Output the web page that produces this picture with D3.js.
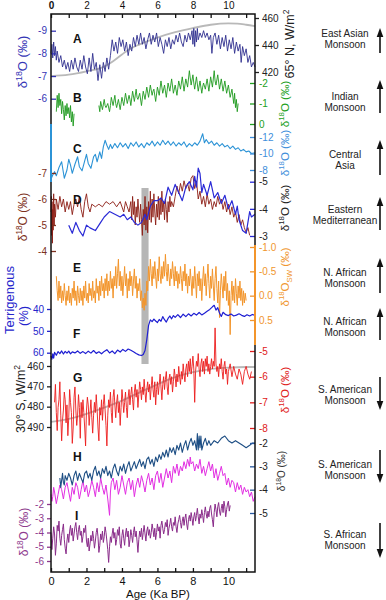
<!DOCTYPE html>
<html>
<head>
<meta charset="utf-8">
<script src="https://cdn.jsdelivr.net/npm/d3@7"></script>
<style>
  body { margin: 0; background: #fff; }
  svg text { font-family: "Liberation Sans", Arial, sans-serif; }
</style>
</head>
<body>
<div id="chart"></div>
<script>
// A: speleothem d18O (East Asia) + 65N insolation
const seriesA = [[0.0,-8.0],[0.05,-8.4],[0.1,-7.8],[0.15,-8.5],[0.2,-7.9],[0.25,-8.3],[0.3,-7.7],[0.35,-8.1],[0.45,-7.6],[0.55,-7.9],[0.65,-7.4],[0.75,-7.7],[0.85,-7.3],[0.95,-7.6],[1.05,-7.2],[1.15,-7.7],[1.25,-7.3],[1.35,-7.8],[1.45,-7.4],[1.55,-7.2],[1.65,-7.7],[1.75,-7.3],[1.85,-7.9],[1.95,-7.4],[2.05,-7.1],[2.15,-7.8],[2.25,-7.2],[2.35,-8.0],[2.45,-7.3],[2.55,-7.6],[2.65,-6.8],[2.75,-7.5],[2.85,-6.9],[2.95,-7.6],[3.05,-7.2],[3.15,-7.8],[3.25,-7.3],[3.35,-7.9],[3.45,-8.6],[3.55,-8.1],[3.65,-8.5],[3.75,-8.0],[3.85,-8.7],[3.95,-8.3],[4.05,-8.6],[4.15,-8.1],[4.25,-8.5],[4.35,-7.9],[4.45,-8.4],[4.55,-8.1],[4.65,-8.7],[4.75,-8.3],[4.85,-8.8],[4.95,-8.4],[5.05,-8.9],[5.15,-8.4],[5.25,-8.7],[5.35,-8.2],[5.45,-8.6],[5.55,-8.9],[5.65,-8.4],[5.75,-8.8],[5.85,-8.5],[5.95,-8.9],[6.05,-8.3],[6.15,-8.7],[6.25,-8.4],[6.35,-8.0],[6.45,-8.6],[6.55,-8.3],[6.65,-8.7],[6.75,-8.2],[6.85,-8.6],[6.95,-8.4],[7.05,-8.8],[7.15,-8.5],[7.25,-8.9],[7.35,-8.5],[7.45,-8.3],[7.55,-8.8],[7.65,-8.5],[7.75,-8.9],[7.85,-8.6],[7.95,-9.0],[8.0,-8.4],[8.05,-9.1],[8.1,-8.3],[8.15,-9.0],[8.2,-8.5],[8.25,-9.1],[8.3,-8.6],[8.4,-8.9],[8.5,-8.7],[8.6,-9.0],[8.7,-8.7],[8.8,-8.9],[8.9,-8.6],[9.0,-8.8],[9.07,-8.0],[9.15,-8.7],[9.25,-8.9],[9.35,-8.4],[9.45,-8.8],[9.55,-8.2],[9.65,-8.7],[9.75,-8.3],[9.85,-8.8],[9.95,-8.1],[10.05,-8.6],[10.15,-8.2],[10.25,-8.7],[10.35,-8.0],[10.45,-8.5],[10.55,-8.1],[10.65,-8.4],[10.72,-7.6],[10.8,-8.3],[10.9,-7.9],[11.0,-8.2],[11.1,-7.6],[11.2,-7.9],[11.3,-7.4],[11.4,-7.6],[11.5,-7.4]];
const insol65N = [[0,417],[1,418],[2,420.5],[3,424],[3.5,428],[4,433],[4.5,437.5],[5,440.5],[6,445.5],[7,449.5],[8,452.5],[9,455],[10,456],[10.5,455.8],[11,455],[11.5,454]];

// B: Indian monsoon d18O (two pieces)
const seriesB1 = [[0.3,-0.6],[0.35,-1.4],[0.4,-0.8],[0.45,-1.5],[0.5,-0.9],[0.55,-1.2],[0.6,-0.5],[0.65,-1.1],[0.7,-0.7],[0.75,-0.2],[0.8,-0.9],[0.85,-0.4],[0.9,-1.0],[0.95,-0.5],[1.0,-0.8],[1.05,-0.3],[1.1,-0.9],[1.15,-0.1],[1.2,-0.6],[1.25,0.1],[1.3,-0.5]];
const seriesB2 = [[2.7,-0.9],[2.75,-0.6],[2.8,-1.1],[2.9,-0.7],[3.0,-1.2],[3.05,-0.9],[3.1,-0.8],[3.2,-1.0],[3.3,-0.6],[3.35,-0.9],[3.4,-1.3],[3.5,-0.9],[3.6,-1.4],[3.65,-1.0],[3.7,-0.8],[3.8,-1.2],[3.9,-0.7],[4.0,-1.3],[4.05,-1.1],[4.1,-0.9],[4.2,-1.5],[4.3,-1.0],[4.4,-1.4],[4.45,-1.2],[4.5,-0.9],[4.6,-1.6],[4.7,-1.1],[4.8,-1.7],[4.85,-1.3],[4.9,-1.2],[5.0,-1.5],[5.1,-0.9],[5.2,-1.6],[5.3,-1.2],[5.35,-1.5],[5.4,-1.8],[5.5,-1.3],[5.6,-1.9],[5.7,-1.4],[5.75,-1.6],[5.8,-1.7],[5.9,-1.1],[6.0,-1.8],[6.1,-1.4],[6.2,-2.1],[6.25,-1.8],[6.3,-1.5],[6.4,-1.9],[6.5,-1.3],[6.6,-2.0],[6.7,-1.6],[6.75,-1.9],[6.8,-2.2],[6.9,-1.5],[7.0,-1.9],[7.1,-1.4],[7.2,-2.1],[7.3,-1.7],[7.35,-2.0],[7.4,-2.3],[7.5,-1.6],[7.6,-2.2],[7.7,-1.8],[7.8,-2.6],[7.9,-1.9],[8.0,-2.4],[8.05,-2.0],[8.1,-1.7],[8.2,-2.3],[8.3,-1.6],[8.4,-2.1],[8.5,-1.5],[8.55,-1.8],[8.6,-2.0],[8.7,-1.7],[8.8,-2.2],[8.9,-1.6],[9.0,-2.3],[9.1,-1.8],[9.2,-2.6],[9.25,-2.1],[9.3,-1.9],[9.4,-2.4],[9.5,-1.7],[9.6,-2.2],[9.7,-1.6],[9.8,-2.1],[9.9,-1.5],[10.0,-1.9],[10.1,-1.3],[10.2,-1.7],[10.3,-1.0],[10.35,-1.5],[10.4,-0.8],[10.45,-1.2],[10.5,-0.6],[10.55,-1.0]];

// C: Central Asia d18O
const seriesC = [[0,-6.9],[0.1,-7.4],[0.2,-7.8],[0.3,-7.3],[0.45,-8.3],[0.6,-9.0],[0.75,-7.0],[0.9,-8.0],[1.0,-9.3],[1.1,-8.6],[1.2,-7.6],[1.35,-8.7],[1.5,-9.6],[1.6,-8.4],[1.75,-7.9],[1.9,-9.1],[2.0,-9.9],[2.1,-8.8],[2.25,-8.2],[2.4,-9.6],[2.5,-9.9],[2.6,-9.0],[2.75,-10.2],[2.85,-9.4],[2.95,-10.8],[3.05,-11.6],[3.15,-11.0],[3.25,-10.5],[3.35,-11.1],[3.45,-10.6],[3.6,-11.2],[3.75,-10.7],[3.9,-11.3],[4.05,-10.8],[4.2,-11.2],[4.35,-10.6],[4.5,-11.3],[4.65,-10.9],[4.8,-11.4],[4.95,-10.8],[5.1,-11.2],[5.25,-10.7],[5.4,-11.3],[5.55,-11.0],[5.7,-11.5],[5.85,-10.9],[6.0,-11.4],[6.15,-11.0],[6.3,-11.6],[6.45,-11.1],[6.6,-11.5],[6.75,-11.0],[6.9,-11.4],[7.05,-10.9],[7.2,-11.3],[7.35,-11.0],[7.5,-11.4],[7.65,-10.8],[7.8,-11.2],[7.95,-10.9],[8.1,-11.3],[8.25,-11.0],[8.4,-11.5],[8.55,-12.4],[8.65,-11.3],[8.75,-11.7],[8.9,-11.2],[9.05,-11.5],[9.2,-11.0],[9.35,-11.3],[9.5,-10.9],[9.65,-11.2],[9.8,-10.8],[9.95,-11.0],[10.1,-10.6],[10.25,-10.9],[10.4,-10.5],[10.55,-10.7],[10.7,-10.3],[10.85,-10.5],[11.0,-10.2],[11.15,-10.3],[11.3,-10.0],[11.5,-10.1]];

// D: Eastern Mediterranean, two records
const seriesDbrown = [[0,-5.5],[0.02,-6.1],[0.04,-4.6],[0.06,-5.9],[0.08,-4.3],[0.1,-5.6],[0.12,-4.8],[0.15,-6.2],[0.18,-5.0],[0.2,-5.8],[0.25,-5.3],[0.3,-6.0],[0.4,-5.6],[0.5,-6.1],[0.6,-5.7],[0.7,-6.0],[0.8,-5.5],[0.9,-5.9],[1.0,-5.6],[1.1,-5.9],[1.2,-5.4],[1.3,-5.8],[1.4,-6.0],[1.5,-5.7],[1.6,-6.1],[1.7,-5.6],[1.8,-5.3],[1.9,-5.9],[2.0,-6.2],[2.1,-5.7],[2.2,-5.5],[2.3,-5.8],[2.5,-5.7],[2.7,-5.8],[2.9,-5.7],[3.1,-5.9],[3.3,-5.8],[3.5,-5.9],[3.7,-5.7],[3.9,-5.9],[4.1,-5.5],[4.2,-5.9],[4.3,-5.7],[4.4,-5.5],[4.5,-5.9],[4.55,-5.2],[4.6,-6.1],[4.65,-5.4],[4.7,-5.9],[4.75,-5.0],[4.8,-5.7],[4.85,-5.3],[4.9,-6.0],[4.95,-5.5],[5.0,-5.1],[5.05,-5.8],[5.1,-5.2],[5.15,-4.6],[5.2,-5.6],[5.25,-5.0],[5.3,-6.1],[5.35,-4.8],[5.4,-5.7],[5.45,-4.7],[5.5,-5.9],[5.55,-5.2],[5.6,-6.3],[5.65,-5.1],[5.7,-6.0],[5.75,-5.3],[5.8,-6.2],[5.85,-5.5],[5.9,-5.0],[5.95,-5.8],[6.0,-5.3],[6.05,-6.1],[6.1,-5.2],[6.15,-6.0],[6.2,-5.4],[6.25,-6.3],[6.3,-5.5],[6.35,-5.9],[6.4,-5.2],[6.45,-6.0],[6.5,-5.6],[6.55,-5.1],[6.6,-5.9],[6.65,-5.5],[6.7,-6.1],[6.75,-5.7],[6.8,-5.9],[6.9,-5.7],[7.0,-6.1],[7.1,-6.5],[7.2,-6.2],[7.3,-6.6],[7.4,-6.3],[7.5,-6.7],[7.6,-6.4],[7.7,-6.6],[7.8,-6.3],[7.9,-6.8],[8.0,-6.9],[8.1,-6.4],[8.2,-6.7],[8.3,-6.0],[8.4,-6.3],[8.5,-5.8],[8.6,-6.1],[8.7,-5.7],[8.8,-6.2],[8.9,-5.8],[9.0,-6.0],[9.1,-5.6],[9.2,-5.9],[9.3,-5.7],[9.4,-6.1],[9.5,-5.8],[9.6,-6.0],[9.7,-5.6],[9.8,-5.9],[9.9,-5.5],[10.0,-5.8],[10.1,-5.4],[10.2,-5.7],[10.3,-5.3],[10.4,-5.5],[10.5,-5.1],[10.6,-5.4],[10.7,-5.0],[10.8,-5.2],[10.9,-4.9],[11.0,-4.7],[11.1,-4.9],[11.2,-4.6]];
const seriesDblue = [[1.0,-3.4],[1.2,-3.1],[1.4,-3.5],[1.6,-3.2],[1.8,-3.0],[2.0,-3.4],[2.2,-3.3],[2.5,-3.2],[2.8,-3.5],[3.0,-3.7],[3.3,-3.9],[3.6,-3.8],[3.9,-3.7],[4.1,-3.8],[4.3,-3.6],[4.5,-3.7],[4.7,-3.5],[4.9,-3.4],[5.1,-3.5],[5.3,-3.8],[5.4,-3.6],[5.6,-4.1],[5.8,-4.3],[6.0,-4.3],[6.2,-4.4],[6.4,-4.2],[6.6,-4.8],[6.8,-4.5],[7.0,-4.9],[7.2,-4.6],[7.4,-4.3],[7.6,-4.8],[7.8,-5.0],[8.0,-4.7],[8.1,-5.2],[8.2,-4.8],[8.3,-5.5],[8.4,-5.3],[8.5,-4.6],[8.6,-4.9],[8.8,-4.5],[9.0,-5.0],[9.2,-4.4],[9.4,-4.6],[9.6,-4.2],[9.8,-4.5],[10.0,-4.0],[10.2,-4.3],[10.4,-3.8],[10.5,-4.1],[10.6,-3.6],[10.8,-3.2],[11.0,-3.1],[11.2,-3.9],[11.3,-3.7],[11.5,-3.8]];

// E: N. African d18Osw
const seriesE = [[0.3,-0.4],[0.35,-0.1],[0.4,0.1],[0.45,-0.3],[0.5,0.05],[0.55,-0.2],[0.6,0.15],[0.65,-0.1],[0.7,0.1],[0.75,-0.25],[0.8,0.0],[0.85,0.2],[0.9,-0.1],[0.95,0.1],[1.0,-0.2],[1.05,0.15],[1.1,-0.05],[1.15,0.2],[1.2,-0.15],[1.25,0.05],[1.3,-0.3],[1.35,0.1],[1.4,-0.1],[1.45,0.2],[1.5,-0.2],[1.55,0.0],[1.6,0.15],[1.65,-0.15],[1.7,0.1],[1.75,-0.1],[1.8,0.2],[1.85,-0.2],[1.9,0.05],[1.95,-0.3],[2.0,0.1],[2.05,-0.05],[2.1,0.15],[2.15,-0.25],[2.2,0.0],[2.25,-0.15],[2.3,0.1],[2.35,-0.3],[2.4,0.05],[2.45,-0.1],[2.5,0.15],[2.55,-0.35],[2.6,-0.05],[2.65,-0.2],[2.7,0.1],[2.75,-0.3],[2.8,0.0],[2.85,-0.4],[2.9,-0.1],[2.95,-0.25],[3.0,0.05],[3.05,-0.35],[3.1,-0.1],[3.15,-0.45],[3.2,0.0],[3.25,-0.3],[3.3,-0.1],[3.35,-0.5],[3.4,-0.15],[3.45,-0.35],[3.5,0.05],[3.55,-0.4],[3.6,-0.2],[3.65,-0.6],[3.7,-0.15],[3.75,-0.45],[3.8,-0.75],[3.85,-0.2],[3.9,-0.5],[3.95,-0.1],[4.0,-0.4],[4.05,0.0],[4.1,-0.3],[4.15,-0.6],[4.2,-0.2],[4.25,-0.45],[4.3,0.05],[4.35,-0.35],[4.4,-0.1],[4.45,-0.5],[4.5,-0.2],[4.55,-0.4],[4.6,0.0],[4.65,-0.3],[4.7,-0.55],[4.75,-0.15],[4.8,-0.4],[4.85,0.05],[4.9,-0.25],[4.95,-0.1],[5.0,-0.35],[5.05,0.1],[5.1,-0.1],[5.15,0.25],[5.2,0.05],[5.25,0.3],[5.3,-0.05],[5.35,0.2],[5.4,-0.3],[5.45,-0.1],[5.5,-0.6],[5.55,-0.3],[5.6,-0.75],[5.65,-0.45],[5.7,-0.2],[5.75,-0.6],[5.8,-0.35],[5.85,-0.7],[5.9,-0.4],[5.95,-0.15],[6.0,-0.55],[6.05,-0.3],[6.1,-0.8],[6.15,-0.45],[6.2,-0.25],[6.25,-0.6],[6.3,-0.35],[6.35,-0.7],[6.4,-0.4],[6.45,-0.85],[6.5,-0.5],[6.55,-0.3],[6.6,-0.65],[6.65,-0.4],[6.7,-0.2],[6.75,-0.55],[6.8,-0.35],[6.85,-0.7],[6.9,-0.45],[6.95,-0.2],[7.0,-0.6],[7.05,-0.3],[7.1,-0.5],[7.15,-0.15],[7.2,-0.45],[7.25,-0.25],[7.3,-0.6],[7.35,-0.35],[7.4,-0.1],[7.45,-0.5],[7.5,-0.3],[7.55,-0.65],[7.6,-0.2],[7.65,-0.45],[7.7,-0.05],[7.75,-0.4],[7.8,-0.2],[7.85,-0.55],[7.9,-0.3],[7.95,0.0],[8.0,-0.4],[8.05,-0.15],[8.1,-0.6],[8.15,-0.3],[8.2,0.05],[8.25,-0.45],[8.3,-0.2],[8.35,-0.5],[8.4,-0.1],[8.45,-0.35],[8.5,0.1],[8.55,-0.3],[8.6,-0.6],[8.65,-0.2],[8.7,-0.45],[8.75,0.0],[8.8,-0.35],[8.85,-0.65],[8.9,-0.25],[8.95,0.05],[9.0,-0.4],[9.05,-0.15],[9.1,-0.55],[9.15,-0.2],[9.2,0.1],[9.25,-0.35],[9.3,-0.6],[9.35,-0.15],[9.4,0.15],[9.45,-0.3],[9.5,0.45],[9.55,-0.1],[9.6,-0.45],[9.65,-0.2],[9.7,0.05],[9.75,-0.4],[9.8,-0.1],[9.85,-0.5],[9.9,0.1],[9.95,-0.25],[10.0,0.2],[10.05,-0.1],[10.1,0.8],[10.15,0.0],[10.2,-0.3],[10.25,0.1],[10.3,-0.2],[10.35,0.15],[10.4,-0.35],[10.45,-0.05],[10.5,0.2],[10.55,-0.2],[10.6,0.05],[10.65,-0.3],[10.7,0.1],[10.75,-0.15],[10.8,0.2],[10.85,-0.1],[10.9,0.15],[10.95,-0.05],[11.0,0.1]];

// F: terrigenous %
const seriesF = [[0,61.5],[0.05,63],[0.1,60.5],[0.15,62.5],[0.2,59.8],[0.3,61.2],[0.4,59.5],[0.5,60.4],[0.6,59.2],[0.7,60.6],[0.8,59.4],[0.9,60.2],[1.0,59.3],[1.1,60.5],[1.2,59.6],[1.35,60.1],[1.5,59.2],[1.65,60.3],[1.8,59.5],[1.95,60.4],[2.1,59.3],[2.25,60.2],[2.4,59.0],[2.55,60.3],[2.7,59.6],[2.85,60.5],[3.0,59.4],[3.15,58.6],[3.3,60.1],[3.45,59.2],[3.6,60.4],[3.75,58.8],[3.9,59.7],[4.05,58.5],[4.2,59.4],[4.35,58.3],[4.5,58.9],[4.65,59.6],[4.8,60.4],[4.95,61.0],[5.1,61.3],[5.2,60.8],[5.3,59.0],[5.4,54.0],[5.5,47.5],[5.6,45.0],[5.7,45.8],[5.8,44.6],[5.9,45.5],[6.0,46.2],[6.1,44.8],[6.2,45.6],[6.3,43.5],[6.4,44.9],[6.5,46.0],[6.6,44.3],[6.7,43.2],[6.8,44.5],[6.9,43.0],[7.0,43.8],[7.15,42.6],[7.3,43.9],[7.45,42.4],[7.6,43.5],[7.75,42.2],[7.9,43.2],[8.05,42.0],[8.2,42.8],[8.35,41.6],[8.5,42.7],[8.65,41.9],[8.8,41.0],[8.95,40.2],[9.1,39.0],[9.2,38.3],[9.3,40.5],[9.4,39.4],[9.5,41.8],[9.6,43.4],[9.7,41.5],[9.85,42.6],[10.0,43.0],[10.15,42.3],[10.3,43.2],[10.45,42.8],[10.6,42.2],[10.75,42.9],[10.9,43.4],[11.05,42.6],[11.2,43.2],[11.35,42.5],[11.5,42.9]];

// G: S. American d18O + 30S insolation
const seriesG = [[0.2,-7.0],[0.25,-6.3],[0.3,-7.4],[0.35,-8.1],[0.4,-7.2],[0.45,-6.9],[0.5,-6.2],[0.55,-7.5],[0.6,-8.5],[0.65,-7.7],[0.7,-7.3],[0.75,-6.6],[0.8,-6.9],[0.85,-7.8],[0.9,-7.1],[0.95,-8.3],[1.0,-7.6],[1.05,-6.5],[1.1,-7.0],[1.15,-7.4],[1.2,-8.6],[1.25,-8.0],[1.3,-6.8],[1.35,-6.4],[1.4,-7.3],[1.45,-7.9],[1.5,-7.5],[1.55,-6.7],[1.6,-7.2],[1.65,-8.4],[1.7,-7.0],[1.75,-7.6],[1.8,-6.9],[1.85,-7.4],[1.9,-8.0],[1.95,-8.7],[2.0,-7.3],[2.05,-6.8],[2.1,-7.1],[2.15,-7.9],[2.2,-7.4],[2.25,-6.9],[2.3,-7.6],[2.35,-8.2],[2.4,-7.5],[2.45,-7.0],[2.5,-7.4],[2.55,-6.7],[2.6,-7.3],[2.65,-8.0],[2.7,-8.5],[2.75,-7.2],[2.8,-7.5],[2.85,-6.9],[2.9,-7.7],[2.95,-7.1],[3.0,-6.7],[3.05,-7.3],[3.1,-7.9],[3.15,-8.7],[3.2,-7.5],[3.25,-6.9],[3.3,-7.2],[3.35,-6.6],[3.4,-7.4],[3.45,-7.8],[3.5,-6.8],[3.55,-6.5],[3.6,-7.1],[3.65,-7.6],[3.7,-7.0],[3.75,-6.7],[3.8,-7.4],[3.85,-7.0],[3.9,-7.9],[3.95,-7.2],[4.0,-6.5],[4.05,-6.9],[4.1,-7.4],[4.15,-7.0],[4.2,-6.6],[4.25,-7.2],[4.3,-7.6],[4.35,-6.8],[4.4,-6.5],[4.45,-7.1],[4.5,-6.7],[4.55,-6.4],[4.6,-6.9],[4.65,-7.3],[4.7,-6.6],[4.75,-6.3],[4.8,-6.8],[4.85,-6.5],[4.9,-7.2],[4.95,-6.7],[5.0,-6.2],[5.05,-6.5],[5.1,-6.9],[5.15,-6.4],[5.2,-6.7],[5.25,-6.1],[5.3,-6.6],[5.35,-7.0],[5.4,-6.5],[5.45,-6.2],[5.5,-6.6],[5.55,-6.3],[5.6,-6.9],[5.65,-6.4],[5.7,-6.0],[5.75,-6.5],[5.8,-6.8],[5.85,-6.2],[5.9,-7.1],[5.95,-6.5],[6.0,-6.2],[6.05,-6.7],[6.1,-6.3],[6.15,-5.9],[6.2,-6.4],[6.25,-6.9],[6.3,-6.3],[6.35,-6.0],[6.4,-6.5],[6.45,-6.1],[6.5,-5.8],[6.55,-6.4],[6.6,-6.7],[6.65,-6.1],[6.7,-5.9],[6.75,-6.3],[6.8,-6.0],[6.85,-6.6],[6.9,-6.2],[6.95,-5.7],[7.0,-6.0],[7.05,-6.4],[7.1,-5.9],[7.15,-6.2],[7.2,-5.6],[7.25,-6.0],[7.3,-6.3],[7.35,-5.8],[7.4,-6.1],[7.45,-5.5],[7.5,-5.9],[7.55,-6.2],[7.6,-5.7],[7.65,-5.5],[7.7,-6.0],[7.75,-5.4],[7.8,-5.8],[7.85,-5.3],[7.9,-5.9],[7.95,-5.6],[8.0,-5.2],[8.05,-5.7],[8.1,-7.0],[8.15,-5.8],[8.2,-5.4],[8.25,-5.6],[8.3,-5.1],[8.35,-5.7],[8.4,-6.0],[8.45,-5.5],[8.5,-5.3],[8.55,-5.8],[8.6,-5.4],[8.65,-5.9],[8.7,-5.3],[8.75,-5.6],[8.8,-5.2],[8.85,-5.8],[8.9,-5.5],[8.95,-5.9],[9.0,-5.6],[9.05,-5.3],[9.1,-5.7],[9.15,-5.4],[9.2,-5.6],[9.25,-4.1],[9.3,-5.5],[9.35,-5.8],[9.4,-5.6],[9.45,-6.0],[9.5,-5.5],[9.55,-5.7],[9.6,-5.3],[9.65,-5.8],[9.7,-6.1],[9.75,-5.6],[9.8,-5.4],[9.85,-5.9],[9.9,-5.7],[9.95,-6.3],[10.0,-5.8],[10.1,-5.5],[10.2,-6.0],[10.3,-5.6],[10.4,-5.9],[10.5,-6.1],[10.6,-5.7],[10.7,-5.9],[10.8,-6.3],[10.9,-5.8],[11.0,-5.6],[11.1,-5.9],[11.2,-6.1],[11.3,-5.8]];
const insol30S = [[0,487.5],[1,486],[2,483.5],[3,480.5],[4,477],[5,473],[6,469],[7,465.5],[8,463],[9,461.5],[10,460.8],[11,460.5],[11.5,460.5]];

// H: S. American records (dark blue, magenta)
const seriesH = [[0.5,-3.5],[0.55,-3.9],[0.6,-3.6],[0.65,-3.3],[0.7,-3.7],[0.75,-3.8],[0.8,-3.4],[0.9,-3.6],[1.0,-3.3],[1.1,-3.5],[1.2,-3.8],[1.3,-3.4],[1.4,-3.2],[1.5,-3.6],[1.6,-3.3],[1.7,-3.5],[1.8,-3.7],[1.9,-3.3],[2.0,-3.2],[2.1,-3.5],[2.2,-3.3],[2.3,-3.6],[2.4,-3.2],[2.5,-3.0],[2.6,-3.4],[2.7,-3.2],[2.8,-3.5],[2.9,-3.1],[3.0,-3.3],[3.1,-3.0],[3.2,-3.4],[3.3,-3.2],[3.4,-3.5],[3.5,-3.1],[3.6,-2.9],[3.7,-3.2],[3.8,-3.4],[3.9,-3.0],[4.0,-3.2],[4.1,-2.9],[4.2,-3.3],[4.3,-3.0],[4.4,-2.8],[4.5,-3.2],[4.6,-3.0],[4.7,-2.8],[4.8,-3.1],[4.9,-2.9],[5.0,-2.7],[5.1,-3.0],[5.2,-2.8],[5.3,-3.1],[5.4,-2.7],[5.5,-2.6],[5.6,-2.9],[5.7,-2.7],[5.8,-3.0],[5.9,-2.6],[6.0,-2.8],[6.1,-2.5],[6.2,-2.7],[6.3,-2.4],[6.4,-2.6],[6.5,-2.3],[6.6,-2.6],[6.7,-2.2],[6.8,-2.4],[6.9,-2.2],[7.0,-2.5],[7.1,-2.1],[7.2,-2.3],[7.3,-2.0],[7.4,-2.4],[7.5,-2.1],[7.6,-1.9],[7.7,-2.3],[7.8,-2.0],[7.9,-1.8],[8.0,-2.1],[8.1,-1.9],[8.2,-2.3],[8.25,-1.6],[8.3,-2.3],[8.35,-1.7],[8.4,-2.2],[8.45,-1.7],[8.5,-2.3],[8.6,-2.0],[8.7,-1.8],[8.8,-2.1],[8.9,-1.9],[9.0,-2.1],[9.2,-1.9],[9.4,-2.0],[9.6,-1.8],[9.8,-1.7],[10.0,-1.9],[10.2,-2.0],[10.4,-1.9],[10.6,-2.0],[10.8,-2.1],[11.0,-2.2],[11.2,-2.1],[11.35,-2.0],[11.5,-2.0]];
const seriesHpink = [[0,-4.2],[0.05,-4.5],[0.1,-4.3],[0.15,-3.9],[0.2,-4.1],[0.3,-4.6],[0.4,-4.2],[0.5,-3.8],[0.6,-4.0],[0.7,-4.4],[0.8,-3.9],[0.9,-3.7],[1.0,-4.1],[1.1,-4.5],[1.2,-3.9],[1.3,-4.2],[1.4,-3.7],[1.5,-3.9],[1.6,-4.4],[1.7,-4.0],[1.8,-3.6],[1.9,-4.1],[2.0,-3.8],[2.1,-4.3],[2.2,-4.0],[2.3,-3.6],[2.4,-3.9],[2.5,-4.3],[2.6,-3.7],[2.7,-4.1],[2.8,-3.5],[2.9,-3.9],[3.0,-4.2],[3.1,-3.8],[3.2,-4.4],[3.3,-5.1],[3.35,-4.1],[3.4,-3.7],[3.5,-3.5],[3.6,-4.0],[3.7,-3.6],[3.8,-4.2],[3.9,-3.9],[4.0,-3.4],[4.1,-3.8],[4.2,-4.2],[4.3,-3.7],[4.4,-3.5],[4.5,-4.0],[4.6,-3.6],[4.7,-4.3],[4.8,-3.8],[4.9,-3.5],[5.0,-3.9],[5.1,-3.4],[5.2,-3.7],[5.3,-4.1],[5.4,-3.6],[5.5,-3.3],[5.6,-3.8],[5.7,-3.5],[5.8,-4.0],[5.9,-3.4],[6.0,-3.2],[6.1,-3.7],[6.2,-3.3],[6.3,-3.9],[6.4,-3.5],[6.5,-3.1],[6.6,-3.5],[6.7,-3.2],[6.8,-3.7],[6.9,-3.0],[7.0,-3.3],[7.1,-2.9],[7.2,-3.4],[7.3,-3.0],[7.4,-3.2],[7.5,-2.8],[7.6,-3.1],[7.7,-2.7],[7.8,-3.0],[7.85,-2.6],[7.9,-2.9],[8.0,-2.8],[8.1,-3.2],[8.2,-2.9],[8.3,-3.1],[8.4,-2.7],[8.5,-3.3],[8.6,-3.0],[8.7,-3.4],[8.8,-3.1],[8.9,-2.8],[9.0,-3.2],[9.1,-2.9],[9.2,-3.5],[9.3,-3.1],[9.4,-3.6],[9.5,-3.3],[9.6,-3.0],[9.7,-3.4],[9.8,-3.3],[9.9,-3.8],[10.0,-3.5],[10.1,-3.9],[10.2,-3.6],[10.3,-3.7],[10.4,-4.1],[10.5,-3.7],[10.6,-4.0],[10.7,-3.8],[10.8,-4.2],[10.9,-3.9],[11.0,-4.1],[11.1,-4.0],[11.2,-4.3],[11.3,-4.1],[11.4,-4.5],[11.5,-4.3]];

// I: S. African d18O
const seriesI = [[0,-4.0],[0.05,-5.2],[0.1,-4.4],[0.15,-3.6],[0.2,-4.1],[0.25,-5.6],[0.3,-4.8],[0.35,-3.5],[0.4,-3.9],[0.45,-3.2],[0.5,-4.4],[0.55,-4.9],[0.6,-4.2],[0.65,-3.8],[0.7,-3.4],[0.75,-4.5],[0.8,-5.1],[0.85,-5.5],[0.9,-4.6],[0.95,-4.1],[1.0,-4.7],[1.05,-3.9],[1.1,-3.5],[1.15,-4.2],[1.2,-3.7],[1.25,-4.6],[1.3,-4.1],[1.35,-3.6],[1.4,-3.3],[1.45,-4.0],[1.5,-4.5],[1.55,-3.8],[1.6,-3.5],[1.65,-4.2],[1.7,-3.9],[1.75,-4.7],[1.8,-4.3],[1.85,-3.7],[1.9,-4.0],[1.95,-3.5],[2.0,-4.6],[2.05,-5.0],[2.1,-4.4],[2.15,-5.3],[2.2,-4.8],[2.25,-4.2],[2.3,-4.6],[2.35,-3.9],[2.4,-4.4],[2.45,-5.1],[2.5,-4.6],[2.55,-4.0],[2.6,-3.7],[2.65,-4.3],[2.7,-5.4],[2.75,-4.9],[2.8,-4.1],[2.85,-4.5],[2.9,-3.9],[2.95,-4.7],[3.0,-4.3],[3.05,-3.6],[3.1,-4.0],[3.15,-4.6],[3.2,-5.2],[3.25,-6.1],[3.3,-5.0],[3.35,-4.3],[3.4,-4.7],[3.45,-4.1],[3.5,-3.7],[3.55,-4.4],[3.6,-4.0],[3.65,-4.9],[3.7,-4.5],[3.75,-3.8],[3.8,-4.2],[3.85,-3.6],[3.9,-4.8],[3.95,-5.1],[4.0,-4.2],[4.05,-3.8],[4.1,-4.4],[4.15,-4.9],[4.2,-4.1],[4.25,-3.7],[4.3,-4.3],[4.35,-3.9],[4.4,-5.0],[4.45,-4.5],[4.5,-3.8],[4.55,-4.2],[4.6,-4.7],[4.65,-4.0],[4.7,-3.6],[4.75,-4.3],[4.8,-3.9],[4.85,-4.6],[4.9,-5.4],[4.95,-4.5],[5.0,-3.9],[5.05,-4.3],[5.1,-3.7],[5.15,-4.5],[5.2,-4.0],[5.25,-3.5],[5.3,-4.1],[5.35,-4.6],[5.4,-3.9],[5.45,-3.6],[5.5,-4.2],[5.55,-3.8],[5.6,-4.4],[5.65,-4.0],[5.7,-3.4],[5.75,-3.8],[5.8,-4.3],[5.85,-3.7],[5.9,-4.5],[5.95,-4.0],[6.0,-3.4],[6.05,-3.9],[6.1,-3.6],[6.15,-4.4],[6.2,-3.5],[6.25,-3.2],[6.3,-3.7],[6.35,-4.1],[6.4,-3.8],[6.45,-3.3],[6.5,-3.6],[6.55,-3.1],[6.6,-4.2],[6.65,-3.7],[6.7,-3.4],[6.75,-3.0],[6.8,-3.6],[6.85,-3.9],[6.9,-3.3],[6.95,-3.5],[7.0,-2.9],[7.05,-3.6],[7.1,-4.0],[7.15,-3.4],[7.2,-3.1],[7.25,-2.8],[7.3,-3.3],[7.35,-3.7],[7.4,-3.2],[7.45,-2.9],[7.5,-3.5],[7.55,-3.0],[7.6,-2.7],[7.65,-3.4],[7.7,-3.8],[7.75,-3.1],[7.8,-2.8],[7.85,-3.2],[7.9,-2.6],[7.95,-3.0],[8.0,-3.5],[8.05,-2.9],[8.1,-2.6],[8.15,-3.2],[8.2,-2.8],[8.25,-2.3],[8.3,-2.9],[8.35,-3.4],[8.4,-2.7],[8.45,-3.0],[8.5,-2.4],[8.55,-2.8],[8.6,-3.3],[8.65,-2.6],[8.7,-2.2],[8.75,-2.7],[8.8,-3.0],[8.85,-2.5],[8.9,-2.9],[8.95,-2.3],[9.0,-2.1],[9.05,-2.7],[9.1,-3.1],[9.15,-3.6],[9.2,-2.6],[9.25,-2.0],[9.3,-2.4],[9.35,-2.9],[9.4,-2.2],[9.45,-1.9],[9.5,-2.5],[9.55,-2.8],[9.6,-2.3],[9.65,-2.0],[9.7,-2.6],[9.75,-1.8],[9.8,-2.2],[9.85,-2.9],[9.9,-2.4],[9.95,-2.0],[10.0,-1.8],[10.05,-2.5],[10.1,-2.1]];

const panelLetters = ["A", "B", "C", "D", "E", "F", "G", "H", "I"];
const regionNames = [["East Asian", "Monsoon"], ["Indian", "Monsoon"], ["Central", "Asia"], ["Eastern", "Mediterranean"], ["N. African", "Monsoon"], ["N. African", "Monsoon"], ["S. American", "Monsoon"], ["S. American", "Monsoon"], ["S. African", "Monsoon"]];
const regionTrend = ["up", "up", "up", "up", "up", "up", "down", "down", "down"];
const ageTicks = [0, 1, 2, 3, 4, 5, 6, 7, 8, 9, 10, 11];
const eventBand = [5.1, 5.5];

function drawChart() {
    const width = 386, height = 600;
    const left = 51, right = 255, top = 14, bottom = 572;

    const svg = d3.select("#chart")
        .append("svg")
        .attr("width", width)
        .attr("height", height);

    const x = d3.scaleLinear().domain([0, 11.5]).range([left, right]);

    const yA = d3.scaleLinear().domain([-9, -6]).range([30.7, 98.7]);
    const yAins = d3.scaleLinear().domain([420, 460]).range([72, 18]);
    const yB = d3.scaleLinear().domain([-2, 0]).range([83, 124]);
    const yC = d3.scaleLinear().domain([-12, -8]).range([137, 170]);
    const yDl = d3.scaleLinear().domain([-7, -4]).range([173, 251]);
    const yDr = d3.scaleLinear().domain([-5, -3]).range([181.7, 236]);
    const yE = d3.scaleLinear().domain([-1, 0.5]).range([247, 320]);
    const yF = d3.scaleLinear().domain([40, 60]).range([309, 352.7]);
    const yGr = d3.scaleLinear().domain([-5, -8]).range([351, 428]);
    const yGins = d3.scaleLinear().domain([460, 490]).range([366, 427]);
    const yH = d3.scaleLinear().domain([-2, -5]).range([443, 513]);
    const yI = d3.scaleLinear().domain([-2, -6]).range([504, 561]);

    // grey event band
    svg.append("rect")
        .attr("x", x(eventBand[0]))
        .attr("width", x(eventBand[1]) - x(eventBand[0]))
        .attr("y", 188)
        .attr("height", 176)
        .attr("fill", "#b6b6b6");

    function drawLine(data, y, color, w, curve) {
        svg.append("path")
            .datum(data)
            .attr("fill", "none")
            .attr("stroke", color)
            .attr("stroke-width", w)
            .attr("stroke-linejoin", "round")
            .attr("d", d3.line()
                .x(d => x(d[0]))
                .y(d => y(d[1]))
                .curve(curve || d3.curveLinear));
    }

    drawLine(insol65N, yAins, "#b9b9b9", 1.8, d3.curveMonotoneX);
    drawLine(insol30S, yGins, "#b9b9b9", 1.8, d3.curveMonotoneX);

    drawLine(seriesA, yA, "#2f2f8e", 0.9);
    drawLine(seriesB1, yB, "#1e9a1e", 0.9);
    drawLine(seriesB2, yB, "#1e9a1e", 0.9);
    drawLine(seriesC, yC, "#2c93d6", 1.1);
    drawLine(seriesDbrown, yDl, "#8c1d14", 0.9);
    drawLine(seriesDblue, yDr, "#2a2ad6", 1.2);
    drawLine(seriesE, yE, "#f3952b", 1);
    drawLine(seriesF, yF, "#1e1ed2", 1.2);
    drawLine(seriesG, yGr, "#ec1c1c", 0.9);
    drawLine(seriesHpink, yH, "#e22ee2", 1);
    drawLine(seriesH, yH, "#1d4e84", 1.1);
    drawLine(seriesI, yI, "#8a2c8a", 1);

    function yAxis(scale, side, ticks, tickColor, labelColor, inward, fmt) {
        const ax = (side === "left" ? d3.axisLeft(scale) : d3.axisRight(scale))
            .tickValues(ticks)
            .tickSize(inward ? -5 : 4)
            .tickPadding(inward ? 4 : 3)
            .tickFormat(fmt || (d => String(d)));
        const g = svg.append("g")
            .attr("transform", "translate(" + (side === "left" ? left : right) + ",0)")
            .call(ax)
            .attr("font-family", null)
            .attr("font-size", null);
        g.select(".domain").remove();
        g.selectAll(".tick line").attr("stroke", tickColor).attr("stroke-width", 1.3);
        g.selectAll(".tick text").attr("fill", labelColor).attr("font-size", 10);
    }

    yAxis(yA, "left", [-9, -8, -7, -6], "#3535b5", "#3535b5", true);
    yAxis(yDl, "left", [-7, -6, -5, -4], "#7d3020", "#7d3020", true);
    yAxis(yF, "left", [40, 50, 60], "#2525cc", "#2525cc", false);
    yAxis(yGins, "left", [460, 470, 480, 490], "#222", "#222", false);
    yAxis(yI, "left", [-2, -3, -4, -5, -6], "#8e3a8e", "#8e3a8e", false);

    yAxis(yAins, "right", [420, 440, 460], "#222", "#222", false);
    yAxis(yB, "right", [-2, -1, 0], "#22a022", "#22a022", true);
    yAxis(yC, "right", [-12, -10, -8], "#3f8fdb", "#3f8fdb", true);
    yAxis(yDr, "right", [-5, -4, -3], "#2a2ad6", "#222", true);
    yAxis(yE, "right", [-1, -0.5, 0, 0.5], "#f0962e", "#f0962e", true, d => d.toFixed(1));
    yAxis(yGr, "right", [-5, -6, -7, -8], "#e02020", "#e02020", true);
    yAxis(yH, "right", [-2, -3, -4, -5], "#2a5aa0", "#222", true);

    // age axes
    const topAx = svg.append("g")
        .attr("transform", "translate(0," + top + ")")
        .call(d3.axisTop(x).tickValues(ageTicks).tickSize(-4).tickPadding(5)
            .tickFormat(d => d % 2 === 0 ? d : ""))
        .attr("font-family", null)
        .attr("font-size", null);
    topAx.select(".domain").remove();
    topAx.selectAll(".tick line").attr("stroke", "#111").attr("stroke-width", 1.3);
    topAx.selectAll(".tick text").attr("font-size", 10).attr("fill", "#111")
        .attr("font-weight", d => d === 0 ? "bold" : null);

    const botAx = svg.append("g")
        .attr("transform", "translate(0," + bottom + ")")
        .call(d3.axisBottom(x).tickValues(ageTicks).tickSize(-4).tickPadding(5)
            .tickFormat(d => d % 2 === 0 ? d : ""))
        .attr("font-family", null)
        .attr("font-size", null);
    botAx.select(".domain").remove();
    botAx.selectAll(".tick line").attr("stroke", "#111").attr("stroke-width", 1.3);
    botAx.selectAll(".tick text").attr("font-size", 11).attr("fill", "#111");

    svg.append("text")
        .attr("x", 158).attr("y", 598)
        .attr("text-anchor", "middle")
        .attr("font-size", 11.5)
        .attr("fill", "#111")
        .text("Age (Ka BP)");

    // frame
    svg.append("rect")
        .attr("x", left).attr("y", top)
        .attr("width", right - left).attr("height", bottom - top)
        .attr("fill", "none")
        .attr("stroke", "#111")
        .attr("stroke-width", 1.5);
    svg.append("line")
        .attr("x1", left).attr("x2", left).attr("y1", 124).attr("y2", 182)
        .attr("stroke", "#2c93d6").attr("stroke-width", 2);
    svg.append("line")
        .attr("x1", right).attr("x2", right).attr("y1", 245).attr("y2", 345)
        .attr("stroke", "#f3952b").attr("stroke-width", 2);

    // rotated axis titles
    function vTitle(cx, cy, parts, color, size) {
        const t = svg.append("text")
            .attr("transform", "translate(" + cx + "," + cy + ") rotate(-90)")
            .attr("text-anchor", "middle")
            .attr("fill", color)
            .attr("font-size", size);
        let shift = 0;
        parts.forEach(p => {
            const target = p[1] === "sup" ? -0.4 * size : p[1] === "sub" ? 0.25 * size : 0;
            const s = t.append("tspan").text(p[0]).attr("dy", target - shift);
            if (p[1]) s.attr("font-size", size * 0.68);
            shift = target;
        });
    }
    const d18O = [["δ"], ["18", "sup"], ["O (‰)"]];

    vTitle(27, 62, d18O, "#3535b5", 13);
    vTitle(27, 217, d18O, "#7d3020", 12);
    vTitle(14, 300, [["Terrigenous"]], "#2525cc", 13);
    vTitle(28, 316, [["(%)"]], "#2525cc", 13);
    vTitle(25, 399, [["30° S, W/m"], ["2", "sup"]], "#222", 12.5);
    vTitle(28, 532, d18O, "#8e3a8e", 12);

    vTitle(294, 44, [["65° N, W/m"], ["2", "sup"]], "#222", 12.5);
    vTitle(289, 104, d18O, "#22a022", 11.5);
    vTitle(289, 153, d18O, "#3f8fdb", 11.5);
    vTitle(289, 208, d18O, "#222", 11.5);
    vTitle(289, 277, [["δ"], ["18", "sup"], ["O"], ["SW", "sub"], [" (‰)"]], "#f0962e", 11.5);
    vTitle(289, 390, d18O, "#e02020", 11.5);
    vTitle(285, 471, d18O, "#333", 10);

    // panel letters
    const letterY = [43, 102, 153, 204, 272, 338, 382, 461, 520];
    svg.selectAll(".plabel")
        .data(panelLetters)
        .join("text")
        .attr("class", "plabel")
        .attr("x", (d, i) => i === 8 ? 75 : 73)
        .attr("y", (d, i) => letterY[i])
        .attr("font-family", "'Liberation Serif', 'Times New Roman', serif")
        .attr("font-weight", "bold")
        .attr("font-size", 12)
        .attr("fill", "#111")
        .text(d => d);

    // region labels + arrows
    const textY = [37, 100, 158, 213, 276, 325, 393, 468, 538];
    const arrowSpan = [[28, 53], [80, 113], [140, 175], [197, 230], [258, 293], [308, 340], [377, 410], [450, 483], [523, 558]];
    const annX = 345, arrowX = 380;

    regionNames.forEach((lines, i) => {
        const t = svg.append("text")
            .attr("text-anchor", "middle")
            .attr("font-size", 10)
            .attr("fill", "#222");
        lines.forEach((ln, j) => {
            t.append("tspan").attr("x", annX).attr("y", textY[i] + j * 10.5).text(ln);
        });
        const [y0, y1] = arrowSpan[i];
        const up = regionTrend[i] === "up";
        const head = up ? y0 : y1;
        const tail = up ? y1 : y0;
        const dir = up ? 1 : -1;
        svg.append("line")
            .attr("x1", arrowX).attr("x2", arrowX)
            .attr("y1", tail).attr("y2", head + dir * 7)
            .attr("stroke", "#111").attr("stroke-width", 1.6);
        svg.append("path")
            .attr("d", d3.line()([[arrowX, head], [arrowX - 3.3, head + dir * 9], [arrowX + 3.3, head + dir * 9]]) + "Z")
            .attr("fill", "#111");
    });
}

drawChart();
</script>
</body>
</html>
